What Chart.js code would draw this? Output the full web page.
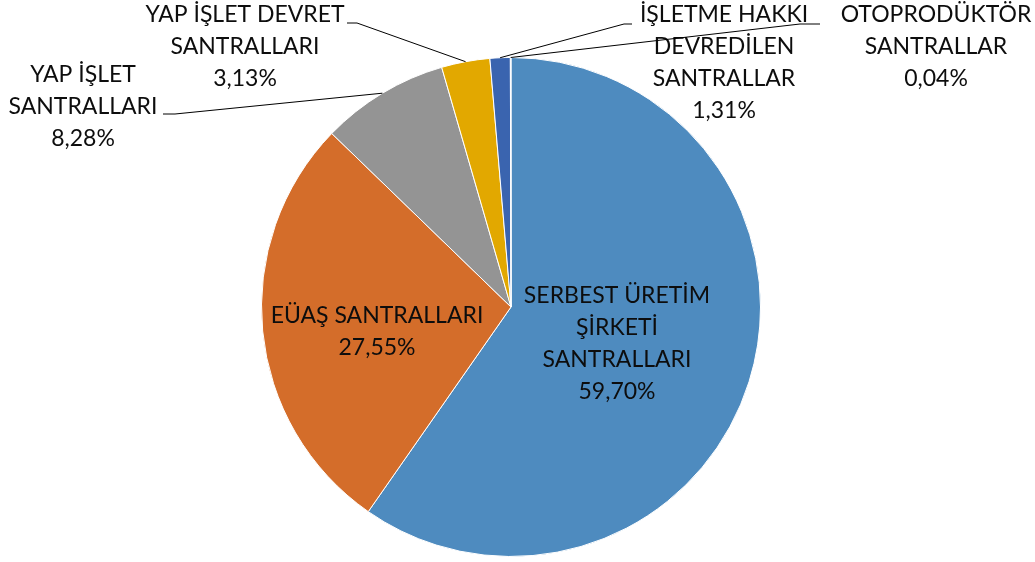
<!DOCTYPE html>
<html><head><meta charset="utf-8">
<script src="https://cdn.jsdelivr.net/npm/chart.js@4/dist/chart.umd.min.js"></script>
<style>html,body{margin:0;padding:0;background:#fff}#wrap{width:1035px;height:562px}</style>
</head><body><div id="wrap"><canvas id="c" width="1035" height="562"></canvas></div>
<script>
const categories = [
  ["SERBEST ÜRETİM","ŞİRKETİ","SANTRALLARI"],
  ["EÜAŞ SANTRALLARI"],
  ["YAP İŞLET","SANTRALLARI"],
  ["YAP İŞLET DEVRET","SANTRALLARI"],
  ["İŞLETME HAKKI","DEVREDİLEN","SANTRALLAR"],
  ["OTOPRODÜKTÖR","SANTRALLAR"]
];
const values = [59.70, 27.55, 8.28, 3.13, 1.31, 0.04];
const percentLabels = ["59,70%","27,55%","8,28%","3,13%","1,31%","0,04%"];
const colors = ["#4E8BBF","#D46D2A","#949494","#E2A800","#3A64AF","#7BA7D2"];

// label layout: text center x, first line y, optional leader [elbow x, elbow y, text-side end x]
const labelLayout = [
  {x:617, y:296, inside:true},
  {x:377, y:316, inside:true},
  {x:83,  y:75,  leader:[175,114,163]},
  {x:245, y:15,  leader:[357,23,347]},
  {x:724, y:15,  leader:[624,24,632]},
  {x:936, y:15,  leader:[800,24,820]}
];

const labelPlugin = {
  id:'labels',
  afterDatasetsDraw(chart){
    const ctx = chart.ctx;
    const meta = chart.getDatasetMeta(0);
    ctx.save();
    ctx.font = '23px Lato, "Open Sans", sans-serif';
    ctx.fillStyle = '#0d0d0d';
    ctx.textAlign = 'center';
    ctx.textBaseline = 'middle';
    const lh = 31.7;
    meta.data.forEach((arc, i) => {
      const L = labelLayout[i];
      const p = arc.getProps(['x','y','startAngle','endAngle','outerRadius'], true);
      if (L.leader) {
        const mid = (p.startAngle + p.endAngle)/2;
        const ax = p.x + Math.cos(mid)*p.outerRadius;
        const ay = p.y + Math.sin(mid)*p.outerRadius;
        ctx.strokeStyle = '#000';
        ctx.lineWidth = 1;
        ctx.beginPath();
        ctx.moveTo(ax, ay);
        ctx.lineTo(L.leader[0], L.leader[1]);
        ctx.lineTo(L.leader[2], L.leader[1]);
        ctx.stroke();
      }
      const lines = categories[i].concat([percentLabels[i]]);
      lines.forEach((t, k) => ctx.fillText(t, L.x, L.y + k*lh));
    });
    ctx.restore();
  }
};

new Chart(document.getElementById('c'), {
  type:'pie',
  data:{
    labels: categories.map(c => c.join(' ')),
    datasets:[{data:values, backgroundColor:colors, borderColor:'#ffffff', borderWidth:1}]
  },
  options:{
    responsive:false,
    animation:false,
    layout:{padding:{left:261, right:274, top:57, bottom:5}},
    plugins:{legend:{display:false}, tooltip:{enabled:false}}
  },
  plugins:[labelPlugin]
});
</script>
</body></html>
